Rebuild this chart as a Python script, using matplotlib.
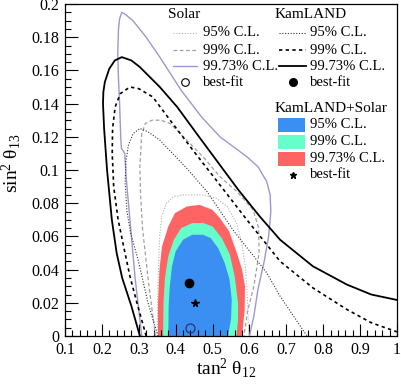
import matplotlib
matplotlib.use("Agg")
import matplotlib.pyplot as plt
from matplotlib.patches import Rectangle
from matplotlib.ticker import MultipleLocator, FuncFormatter

plt.rcParams['font.family'] = ['Liberation Serif', 'DejaVu Serif']
plt.rcParams['mathtext.fontset'] = 'custom'
plt.rcParams['mathtext.rm'] = 'Liberation Serif'
plt.rcParams['mathtext.it'] = 'Liberation Serif:italic'

# ---------------- data ----------------
# KamLAND contours
kam_9973_x = [0.303, 0.28, 0.255, 0.24, 0.227, 0.214, 0.206, 0.203, 0.204, 0.208, 0.22, 0.235, 0.254,
              0.28, 0.303, 0.357, 0.404, 0.46, 0.52, 0.57, 0.628, 0.683, 0.772, 0.864, 0.93, 1.0]
kam_9973_y = [0.0, 0.018, 0.035, 0.05, 0.070, 0.100, 0.125, 0.140, 0.147, 0.153, 0.161, 0.166, 0.168,
              0.166, 0.162, 0.150, 0.138, 0.121, 0.103, 0.088, 0.072, 0.058, 0.042, 0.031, 0.025, 0.0217]
kam_99_x = [0.320, 0.295, 0.276, 0.258, 0.244, 0.232, 0.228, 0.229, 0.236, 0.25, 0.276, 0.30, 0.338,
            0.385, 0.45, 0.52, 0.593, 0.64, 0.683, 0.772, 0.864, 0.93, 1.0]
kam_99_y = [0.0, 0.020, 0.036, 0.055, 0.070, 0.090, 0.110, 0.125, 0.138, 0.146, 0.150, 0.149, 0.144,
            0.130, 0.111, 0.091, 0.070, 0.057, 0.045, 0.029, 0.016, 0.008, 0.0025]
kam_95_x = [0.352, 0.325, 0.298, 0.278, 0.268, 0.263, 0.265, 0.272, 0.285, 0.303, 0.325, 0.357, 0.40,
            0.43, 0.485, 0.555, 0.647, 0.683, 0.756]
kam_95_y = [0.0, 0.020, 0.046, 0.062, 0.075, 0.092, 0.105, 0.115, 0.122, 0.125, 0.123, 0.118, 0.108,
            0.101, 0.087, 0.064, 0.038, 0.024, 0.0]
# Solar contours
sol_9973_x = [0.308, 0.29, 0.278, 0.272, 0.266, 0.262, 0.253, 0.251, 0.248, 0.245, 0.243, 0.245, 0.248,
              0.254, 0.262, 0.284, 0.32, 0.357, 0.415, 0.47, 0.52, 0.593, 0.623, 0.647, 0.656, 0.658,
              0.652, 0.64, 0.623, 0.612, 0.600]
sol_9973_y = [0.0, 0.035, 0.065, 0.080, 0.095, 0.110, 0.113, 0.120, 0.140, 0.155, 0.170, 0.185, 0.191,
              0.195, 0.194, 0.190, 0.180, 0.168, 0.148, 0.132, 0.120, 0.108, 0.102, 0.093, 0.085, 0.075,
              0.060, 0.045, 0.028, 0.012, 0.0]
sol_99_x = [0.345, 0.325, 0.31, 0.305, 0.303, 0.308, 0.318, 0.336, 0.36, 0.385, 0.43, 0.474, 0.52,
            0.566, 0.61, 0.625, 0.626, 0.612, 0.595, 0.585]
sol_99_y = [0.0, 0.035, 0.065, 0.085, 0.102, 0.122, 0.128, 0.130, 0.130, 0.128, 0.118, 0.108, 0.096,
            0.087, 0.076, 0.065, 0.050, 0.030, 0.015, 0.0]
sol_95_x = [0.350, 0.352, 0.356, 0.362, 0.375, 0.395, 0.42, 0.47, 0.51, 0.54, 0.565, 0.58, 0.59,
            0.595, 0.598]
sol_95_y = [0.0, 0.030, 0.058, 0.072, 0.080, 0.084, 0.085, 0.085, 0.083, 0.078, 0.068, 0.055, 0.040,
            0.020, 0.0]
# KamLAND+Solar regions
comb_9973_x = [0.352, 0.352, 0.356, 0.363, 0.38, 0.398, 0.43, 0.465, 0.50, 0.52, 0.545, 0.566, 0.58,
               0.588, 0.587, 0.580]
comb_9973_y = [0.0, 0.020, 0.040, 0.054, 0.066, 0.074, 0.078, 0.079, 0.076, 0.071, 0.063, 0.050, 0.040,
               0.030, 0.015, 0.0]
comb_99_x = [0.366, 0.367, 0.371, 0.38, 0.395, 0.415, 0.445, 0.475, 0.50, 0.525, 0.547, 0.56, 0.569,
             0.569, 0.565]
comb_99_y = [0.0, 0.020, 0.035, 0.048, 0.058, 0.065, 0.068, 0.068, 0.066, 0.059, 0.049, 0.036, 0.020,
             0.010, 0.0]
comb_95_x = [0.380, 0.381, 0.384, 0.39, 0.40, 0.42, 0.445, 0.474, 0.495, 0.515, 0.533, 0.546, 0.552,
             0.55, 0.542]
comb_95_y = [0.0, 0.018, 0.030, 0.042, 0.051, 0.058, 0.061, 0.061, 0.059, 0.053, 0.044, 0.034, 0.022,
             0.010, 0.0]
# best fits
solar_bf = (0.439, 0.005)
kam_bf = (0.436, 0.032)
comb_bf = (0.452, 0.020)

cl_labels = ["95% C.L.", "99% C.L.", "99.73% C.L."]
x_ticks = [0.1, 0.2, 0.3, 0.4, 0.5, 0.6, 0.7, 0.8, 0.9, 1.0]
y_ticks = [0, 0.02, 0.04, 0.06, 0.08, 0.1, 0.12, 0.14, 0.16, 0.18, 0.2]

# styles
c_blue, c_green, c_red = "#3b8ff2", "#66ffcc", "#ff6464"
c_sol3 = "#9a9ad0"
sty = {
    'sol95': dict(color="#b0b0b0", lw=0.8, ls=(0, (1, 1.5))),
    'sol99': dict(color="#a0a0a0", lw=0.9, ls=(0, (3, 2))),
    'sol9973': dict(color=c_sol3, lw=1.0, ls='-'),
    'kam95': dict(color="#333333", lw=0.8, ls=(0, (1, 1.5))),
    'kam99': dict(color="black", lw=1.2, ls=(0, (2, 2))),
    'kam9973': dict(color="black", lw=1.3, ls='-'),
}

fig = plt.figure(figsize=(4.01, 3.84), dpi=100)
ax = fig.add_axes([65/401, 48/384, 332/401, 332/384])

ax.fill(comb_9973_x, comb_9973_y, color=c_red, lw=0)
ax.fill(comb_99_x, comb_99_y, color=c_green, lw=0)
ax.fill(comb_95_x, comb_95_y, color=c_blue, lw=0)

ax.plot(sol_95_x, sol_95_y, **sty['sol95'])
ax.plot(sol_99_x, sol_99_y, **sty['sol99'])
ax.plot(sol_9973_x, sol_9973_y, **sty['sol9973'])
ax.plot(kam_95_x, kam_95_y, **sty['kam95'])
ax.plot(kam_99_x, kam_99_y, **sty['kam99'])
ax.plot(kam_9973_x, kam_9973_y, **sty['kam9973'])

ax.plot([solar_bf[0]], [solar_bf[1]], 'o', mfc='none', mec='#333366', mew=0.9, ms=6.5, clip_on=False)
ax.plot([kam_bf[0]], [kam_bf[1]], 'o', color='black', ms=6)
ax.plot([comb_bf[0]], [comb_bf[1]], '*', color='black', ms=5.5)

ax.set_xlim(0.1, 1.0)
ax.set_ylim(0, 0.2)
ax.set_xticks(x_ticks)
ax.set_yticks(y_ticks)
ax.xaxis.set_major_formatter(FuncFormatter(lambda v, p: "%g" % v))
ax.yaxis.set_major_formatter(FuncFormatter(lambda v, p: "%g" % v))
ax.xaxis.set_minor_locator(MultipleLocator(0.02))
ax.yaxis.set_minor_locator(MultipleLocator(0.005))
ax.tick_params(which='both', direction='in', top=False, right=False, labelsize=11.5, width=0.8)
ax.tick_params(which='major', length=9, pad=4)
ax.tick_params(which='minor', length=4.5)
for s in ax.spines.values():
    s.set_linewidth(0.9)

ax.set_xlabel(r'$\mathrm{tan^{2}\ θ_{12}}$', fontsize=14)
ax.set_ylabel(r'$\mathrm{sin^{2}\ θ_{13}}$', fontsize=14)
ax.xaxis.set_label_coords(0.485, -0.062)
ax.yaxis.set_label_coords(-0.125, 0.52)

# ---- legend (drawn manually) ----
def fx(px):
    return (px - 65) / 332.0

def fy(py):
    return (336 - py) / 332.0

T = ax.transAxes
fs = 10.5
ax.text(fx(168), fy(15), "Solar", transform=T, fontsize=11, va='center')
ax.text(fx(275), fy(15), "KamLAND", transform=T, fontsize=11, va='center')
rows = [33, 50, 66]
for r, lab, ks, kk in zip(rows, cl_labels, ['sol95', 'sol99', 'sol9973'], ['kam95', 'kam99', 'kam9973']):
    ax.plot([fx(173), fx(197)], [fy(r), fy(r)], transform=T, **sty[ks])
    ax.text(fx(203), fy(r), lab, transform=T, fontsize=fs, va='center')
    ax.plot([fx(279), fx(306)], [fy(r), fy(r)], transform=T, **sty[kk])
    ax.text(fx(310), fy(r), lab, transform=T, fontsize=fs, va='center')
ax.plot([fx(185)], [fy(82)], 'o', mfc='none', mec='black', mew=0.8, ms=5.5, transform=T)
ax.text(fx(203), fy(82), "best-fit", transform=T, fontsize=fs, va='center')
ax.plot([fx(293)], [fy(82)], 'o', color='black', ms=5.5, transform=T)
ax.text(fx(310), fy(82), "best-fit", transform=T, fontsize=fs, va='center')

ax.text(fx(275), fy(108), "KamLAND+Solar", transform=T, fontsize=11, va='center')
for r, lab, c in zip([125, 142, 159], cl_labels, [c_blue, c_green, c_red]):
    ax.add_patch(Rectangle((fx(278), fy(r + 7)), 27/332, 14/332, transform=T, color=c, lw=0))
    ax.text(fx(310), fy(r), lab, transform=T, fontsize=fs, va='center')
ax.plot([fx(293)], [fy(175)], '*', color='black', ms=5, transform=T)
ax.text(fx(310), fy(175), "best-fit", transform=T, fontsize=fs, va='center')

fig.savefig("out.png", dpi=100)
